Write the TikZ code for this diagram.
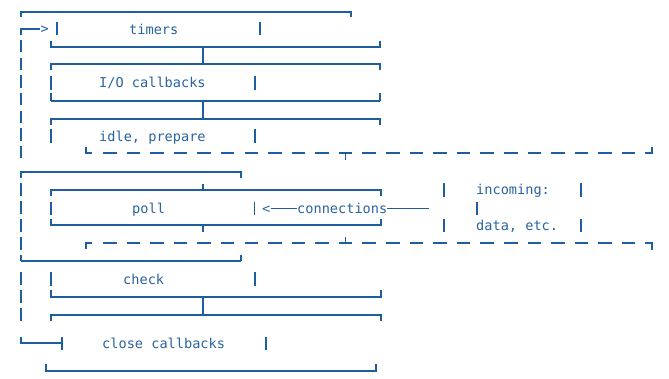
\documentclass[tikz,border=0pt]{standalone}
\usepackage{fontspec}
\setmonofont{DejaVu Sans Mono}
\definecolor{ink}{HTML}{1F5E9E}
\definecolor{txt}{HTML}{2A63A0}
\begin{document}
\begin{tikzpicture}[x=1pt,y=-1pt,
  hline/.style={draw=ink,line width=1.8pt},
  vline/.style={draw=ink,line width=1.3pt},
  dline/.style={draw=ink,line width=1.8pt,dash pattern=on 13.5pt off 10.09pt},
  lbl/.style={text=txt,font=\ttfamily\fontsize{13.6}{16}\selectfont,inner sep=0pt,anchor=base west}]
\useasboundingbox (0,0) rectangle (669,379);

% outer loop frame, top
\draw[hline] (21,12) -- (351,12);
\draw[vline] (21,11.2) -- (21,17);
\draw[vline] (351,11.2) -- (351,17);

% loop-back arrow into timers
\draw[vline] (21,28.3) -- (21,35);
\draw[hline] (20.4,29) -- (40,29);
\node[lbl] (arr) at (40.5,34) {>};

% left return column
\foreach \y in {40,57.7,75.3,93,110.6,128.3,146}
  \draw[vline] (21,\y) -- (21,\y+12.5);
\foreach \y in {183.5,201.2,218.9,236.6}
  \draw[vline] (21,\y) -- (21,\y+13);
\foreach \y in {272,290,308}
  \draw[vline] (21,\y) -- (21,\y+13);

% timers
\draw[vline] (57,22) -- (57,35.5);
\draw[vline] (260,22) -- (260,35.5);
\node[lbl] (timers) at (129,35) {timers};
\draw[hline] (51,47) -- (380,47);
\draw[vline] (51,41) -- (51,47.8);
\draw[vline] (380,41) -- (380,47.8);
\draw[vline] (203,47) -- (203,64);

% I/O callbacks
\draw[hline] (51,64) -- (380,64);
\draw[vline] (51,63.2) -- (51,70);
\draw[vline] (380,63.2) -- (380,70);
\draw[vline] (51,76) -- (51,90);
\draw[vline] (255,76) -- (255,90);
\node[lbl] (io) at (99,88) {I/O callbacks};
\draw[hline] (51,100.7) -- (380,100.7);
\draw[vline] (51,93.5) -- (51,101.5);
\draw[vline] (380,93.5) -- (380,101.5);
\draw[vline] (203,100.7) -- (203,119);

% idle, prepare
\draw[hline] (51,119) -- (380,119);
\draw[vline] (51,118.2) -- (51,125);
\draw[vline] (380,118.2) -- (380,125);
\draw[vline] (51,129) -- (51,143);
\draw[vline] (255,129) -- (255,143);
\node[lbl] (idle) at (99,142) {idle, prepare};

% dashed boundary above poll
\draw[vline] (86,147) -- (86,153.8);
\draw[hline] (85.4,153) -- (92,153);
\draw[dline] (103,153) -- (636,153);
\draw[vline] (345.6,153) -- (345.6,160);
\draw[hline] (645,153) -- (652.6,153);
\draw[vline] (652,146.7) -- (652,153.8);

% frame around poll phase
\draw[hline] (21,172) -- (241,172);
\draw[vline] (21,171.2) -- (21,178);
\draw[vline] (241,171.2) -- (241,178);

% poll
\draw[vline] (203,184) -- (203,190);
\draw[hline] (51,190) -- (381,190);
\draw[vline] (51,189.2) -- (51,196);
\draw[vline] (381,189.2) -- (381,196);
\draw[vline] (51,202) -- (51,215);
\draw[vline] (254.5,202) -- (254.5,215);
\node[lbl] (poll) at (132,214) {poll};
\node[lbl] (lt) at (262,213.5) {<};
\node[lbl] (conn) at (297,214) {connections};
\draw[hline] (lt.east |- 0,208.5) -- (conn.west |- 0,208.5);
\draw[hline] (conn.east |- 0,208.5) -- (429,208.5);
\draw[hline] (51,225) -- (381,225);
\draw[vline] (51,219) -- (51,225.8);
\draw[vline] (381,219) -- (381,225.8);
\draw[vline] (203,225) -- (203,232);

% incoming data
\draw[vline] (444,183) -- (444,197);
\draw[vline] (581,183) -- (581,197);
\node[lbl] (inc) at (476,195) {incoming:};
\draw[vline] (477,202) -- (477,215);
\draw[vline] (444,219) -- (444,232.5);
\draw[vline] (581,219) -- (581,232.5);
\node[lbl] (data) at (476,231) {data, etc.};

% dashed boundary below poll
\draw[vline] (86,242.3) -- (86,249);
\draw[hline] (85.4,243) -- (92,243);
\draw[dline] (103,243) -- (636,243);
\draw[vline] (345.6,237) -- (345.6,243);
\draw[hline] (645,243) -- (652.6,243);
\draw[vline] (652,242.3) -- (652,250);

\draw[hline] (21,260.7) -- (241,260.7);
\draw[vline] (21,255) -- (21,261.5);
\draw[vline] (241,255) -- (241,261.5);

% check
\draw[vline] (51,272) -- (51,286);
\draw[vline] (255,272) -- (255,286);
\node[lbl] (check) at (123,284) {check};
\draw[hline] (51,297) -- (381,297);
\draw[vline] (51,290) -- (51,297.8);
\draw[vline] (381,290) -- (381,297.8);
\draw[vline] (203,297) -- (203,315);

% close callbacks
\draw[hline] (51,315) -- (381,315);
\draw[vline] (51,314.2) -- (51,321);
\draw[vline] (381,314.2) -- (381,321);
\draw[vline] (21,337) -- (21,343.8);
\draw[hline] (20.4,343) -- (62,343);
\draw[vline] (62,337) -- (62,350);
\draw[vline] (266,337) -- (266,350);
\node[lbl] (close) at (102,348) {close callbacks};
\draw[hline] (46,370.7) -- (376,370.7);
\draw[vline] (46,364) -- (46,371.5);
\draw[vline] (376,364) -- (376,371.5);
\end{tikzpicture}
\end{document}
